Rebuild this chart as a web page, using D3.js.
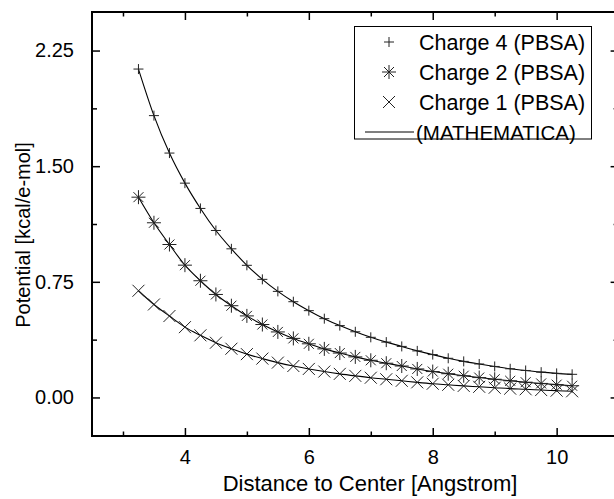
<!DOCTYPE html>
<html>
<head>
<meta charset="utf-8">
<script src="https://cdn.jsdelivr.net/npm/d3@7/dist/d3.min.js"></script>
<style>
  body { margin: 0; background: #fff; }
  text { font-family: "Liberation Sans", Arial, sans-serif; fill: #000; }
</style>
</head>
<body>
<div id="chart"></div>
<script>
// Data
var distance    =   [3.25, 3.5, 3.75, 4.0, 4.25, 4.5, 4.75, 5.0, 5.25, 5.5, 5.75,
                     6.0, 6.25, 6.5, 6.75, 7.0, 7.25, 7.5, 7.75, 8.0, 8.25, 8.5,
                     8.75, 9.0, 9.25, 9.5, 9.75, 10.0, 10.25];
var charge4     =   [2.13, 1.828, 1.585, 1.39, 1.226, 1.083, 0.964, 0.857, 0.766, 0.688, 0.621,
                     0.563, 0.511, 0.466, 0.426, 0.390, 0.359, 0.331, 0.302, 0.278, 0.254, 0.234,
                     0.217, 0.201, 0.186, 0.175, 0.164, 0.156, 0.150];
var charge2     =   [1.299, 1.133, 0.992, 0.858, 0.757, 0.668, 0.595, 0.529, 0.473, 0.425, 0.383,
                     0.348, 0.315, 0.288, 0.263, 0.241, 0.222, 0.204, 0.185, 0.168, 0.154, 0.141,
                     0.129, 0.118, 0.108, 0.099, 0.091, 0.083, 0.076];
var charge1     =   [0.692, 0.603, 0.528, 0.456, 0.403, 0.355, 0.316, 0.281, 0.252, 0.226, 0.204,
                     0.185, 0.168, 0.153, 0.140, 0.128, 0.118, 0.108, 0.098, 0.089, 0.082, 0.075,
                     0.069, 0.063, 0.057, 0.053, 0.048, 0.044, 0.040];
var x_major     =   [4, 6, 8, 10];
var x_minor     =   [3, 5, 7, 9, 11];
var y_major     =   [0, 0.75, 1.5, 2.25];
var y_minor     =   [0.375, 1.125, 1.875];
var legend_labels = ["Charge 4 (PBSA)", "Charge 2 (PBSA)", "Charge 1 (PBSA)", "(MATHEMATICA)"];

var chart_width     =   614;
var chart_height    =   499;
var plot_left = 92, plot_right = 618.6, plot_top = 12, plot_bottom = 436;

// Scales
var x_scale = d3.scaleLinear().domain([2.5, 11]).range([plot_left, plot_right]);
var y_scale = d3.scaleLinear().domain([-0.25, 2.5]).range([plot_bottom, plot_top]);

var svg = d3.select("#chart")
    .append("svg")
    .attr("width", chart_width)
    .attr("height", chart_height);

// Axes (ticks point inward)
function styleAxis(g) {
    g.selectAll(".domain").remove();
    g.selectAll(".tick line").attr("stroke", "#000").attr("stroke-width", 1.5);
    g.selectAll(".tick text").style("font-size", "20px").style("font-family", "Liberation Sans, Arial, sans-serif");
}

svg.append("g")
    .attr("transform", "translate(0," + plot_bottom + ")")
    .call(d3.axisBottom(x_scale).tickValues(x_major).tickSize(-8).tickPadding(14)
        .tickFormat(d3.format("d")))
    .call(styleAxis);
svg.append("g")
    .attr("transform", "translate(0," + plot_bottom + ")")
    .call(d3.axisBottom(x_scale).tickValues(x_minor).tickSize(-4.5).tickFormat(""))
    .call(styleAxis);
svg.append("g")
    .attr("transform", "translate(0," + plot_top + ")")
    .call(d3.axisTop(x_scale).tickValues(x_major).tickSize(-8).tickFormat(""))
    .call(styleAxis);
svg.append("g")
    .attr("transform", "translate(0," + plot_top + ")")
    .call(d3.axisTop(x_scale).tickValues(x_minor).tickSize(-4.5).tickFormat(""))
    .call(styleAxis);

svg.append("g")
    .attr("transform", "translate(" + plot_left + ",0)")
    .call(d3.axisLeft(y_scale).tickValues(y_major).tickSize(-8).tickPadding(18)
        .tickFormat(d3.format(".2f")))
    .call(styleAxis);
svg.append("g")
    .attr("transform", "translate(" + plot_left + ",0)")
    .call(d3.axisLeft(y_scale).tickValues(y_minor).tickSize(-5).tickFormat(""))
    .call(styleAxis);
svg.append("g")
    .attr("transform", "translate(" + plot_right + ",0)")
    .call(d3.axisRight(y_scale).tickValues(y_major).tickSize(-8).tickFormat(""))
    .call(styleAxis);
svg.append("g")
    .attr("transform", "translate(" + plot_right + ",0)")
    .call(d3.axisRight(y_scale).tickValues(y_minor).tickSize(-5).tickFormat(""))
    .call(styleAxis);

// Frame
svg.append("rect")
    .attr("x", plot_left).attr("y", plot_top)
    .attr("width", plot_right - plot_left).attr("height", plot_bottom - plot_top)
    .attr("fill", "none").attr("stroke", "#000").attr("stroke-width", 2);

// Axis titles
svg.append("text")
    .attr("x", 370)
    .attr("y", 491)
    .attr("text-anchor", "middle")
    .style("font-size", "22px")
    .text("Distance to Center [Angstrom]");
svg.append("text")
    .attr("transform", "translate(30,235) rotate(-90)")
    .attr("text-anchor", "middle")
    .style("font-size", "20px")
    .text("Potential [kcal/e-mol]");

// Markers
var plus_path  = "M-5,0H5M0,-5V5";
var cross_path = "M-6,-6L6,6M-6,6L6,-6";
var star_path  = "M-7,0H7M0,-7V7M-5,-5L5,5M-5,5L5,-5";

var series = [
    { values: charge4, path: plus_path },
    { values: charge2, path: star_path },
    { values: charge1, path: cross_path }
];

var line = d3.line()
    .x(function(d) { return x_scale(d[0]); })
    .y(function(d) { return y_scale(d[1]); })
    .curve(d3.curveMonotoneX);

series.forEach(function(s) {
    var pts = distance.map(function(x, i) { return [x, s.values[i]]; });
    svg.append("path")
        .datum(pts)
        .attr("d", line)
        .attr("fill", "none")
        .attr("stroke", "#000")
        .attr("stroke-width", 1.1);
    svg.append("g").selectAll("path")
        .data(pts)
        .enter()
        .append("path")
        .attr("transform", function(d) {
            return "translate(" + x_scale(d[0]) + "," + y_scale(d[1]) + ")";
        })
        .attr("d", s.path)
        .attr("fill", "none")
        .attr("stroke", "#222")
        .attr("stroke-width", 1);
});

// Legend
var legend = svg.append("g");
legend.append("rect")
    .attr("x", 354.5).attr("y", 26.5)
    .attr("width", 237).attr("height", 112.5)
    .attr("fill", "#fff").attr("stroke", "#000").attr("stroke-width", 1);

var legend_syms = [plus_path, star_path, cross_path];
legend_labels.forEach(function(label, i) {
    var cy = 42 + i * 30;
    if (i < 3) {
        legend.append("path")
            .attr("transform", "translate(389," + cy + ")")
            .attr("d", legend_syms[i])
            .attr("fill", "none")
            .attr("stroke", "#222")
            .attr("stroke-width", 1);
    } else {
        legend.append("line")
            .attr("x1", 365).attr("x2", 414)
            .attr("y1", cy).attr("y2", cy)
            .attr("stroke", "#000").attr("stroke-width", 1);
    }
    legend.append("text")
        .attr("x", i < 3 ? 419 : 416)
        .attr("y", cy + 7.5)
        .style("font-size", i < 3 ? "21.5px" : "20.5px")
        .text(label);
});
</script>
</body>
</html>
